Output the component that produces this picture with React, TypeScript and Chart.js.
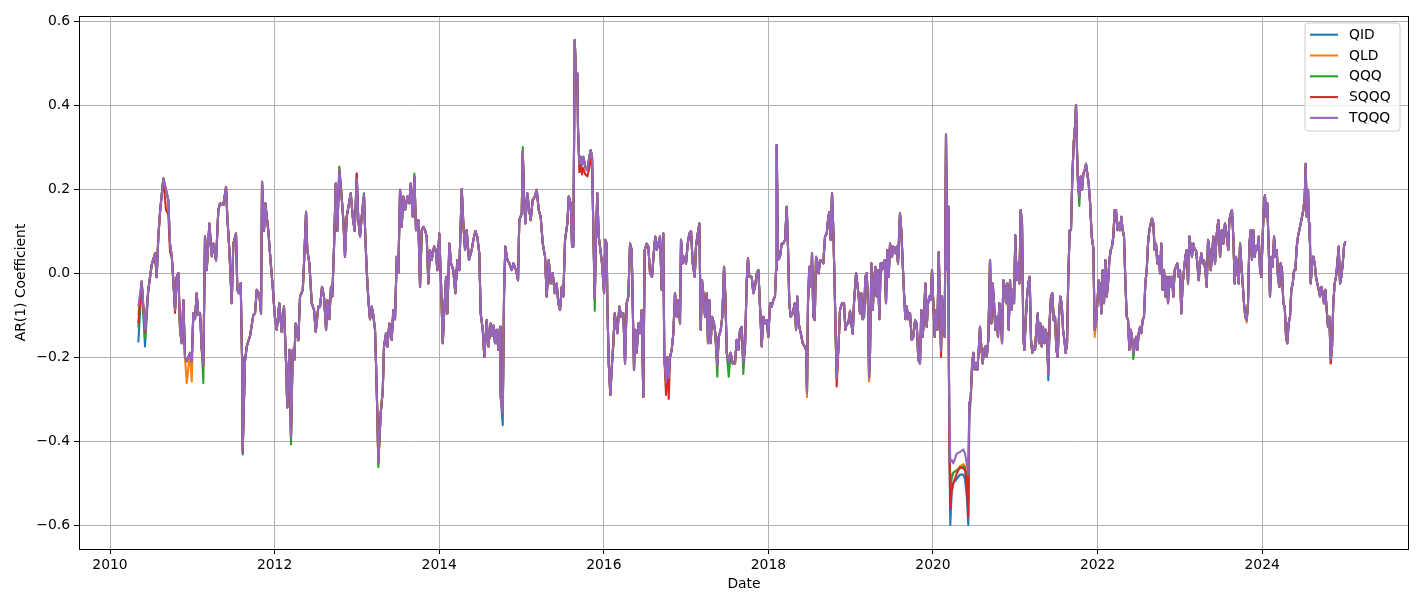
import { useEffect, useRef } from "react";
import { Chart, registerables } from "chart.js";

Chart.register(...registerables);

// Dates as decimal years
const dates = [
  2010.344, 2010.385, 2010.425, 2010.465, 2010.507, 2010.547, 2010.567, 2010.587, 2010.608, 2010.648,
  2010.680, 2010.708, 2010.729, 2010.750, 2010.769, 2010.790, 2010.810, 2010.830, 2010.851, 2010.871,
  2010.891, 2010.911, 2010.932, 2010.972, 2010.993, 2011.012, 2011.033, 2011.053, 2011.073, 2011.094,
  2011.114, 2011.134, 2011.154, 2011.175, 2011.194, 2011.207, 2011.236, 2011.255, 2011.288, 2011.316,
  2011.337, 2011.377, 2011.410, 2011.425, 2011.450, 2011.479, 2011.498, 2011.531, 2011.547, 2011.564,
  2011.588, 2011.604, 2011.612, 2011.640, 2011.661, 2011.701, 2011.741, 2011.762, 2011.783, 2011.814,
  2011.835, 2011.847, 2011.871, 2011.887, 2011.924, 2011.953, 2011.977, 2012.005, 2012.026, 2012.057,
  2012.086, 2012.114, 2012.139, 2012.154, 2012.179, 2012.199, 2012.220, 2012.239, 2012.256, 2012.288,
  2012.309, 2012.342, 2012.357, 2012.382, 2012.397, 2012.422, 2012.451, 2012.479, 2012.500, 2012.531,
  2012.552, 2012.576, 2012.600, 2012.625, 2012.640, 2012.665, 2012.685, 2012.701, 2012.722, 2012.743,
  2012.762, 2012.786, 2012.815, 2012.835, 2012.855, 2012.876, 2012.904, 2012.925, 2012.949, 2012.973,
  2012.998, 2013.017, 2013.038, 2013.062, 2013.086, 2013.102, 2013.119, 2013.139, 2013.159, 2013.180,
  2013.199, 2013.220, 2013.232, 2013.248, 2013.260, 2013.289, 2013.314, 2013.329, 2013.354, 2013.370,
  2013.394, 2013.423, 2013.442, 2013.463, 2013.484, 2013.503, 2013.524, 2013.544, 2013.564, 2013.585,
  2013.613, 2013.637, 2013.654, 2013.678, 2013.698, 2013.718, 2013.746, 2013.767, 2013.788, 2013.807,
  2013.828, 2013.848, 2013.868, 2013.888, 2013.909, 2013.937, 2013.958, 2013.977, 2014.001, 2014.022,
  2014.043, 2014.058, 2014.083, 2014.099, 2014.123, 2014.144, 2014.171, 2014.196, 2014.220, 2014.244,
  2014.274, 2014.293, 2014.314, 2014.334, 2014.362, 2014.395, 2014.415, 2014.439, 2014.463, 2014.487,
  2014.504, 2014.529, 2014.548, 2014.577, 2014.597, 2014.626, 2014.642, 2014.658, 2014.678, 2014.699,
  2014.718, 2014.739, 2014.747, 2014.772, 2014.788, 2014.803, 2014.828, 2014.852, 2014.881, 2014.901,
  2014.933, 2014.958, 2014.973, 2015.003, 2015.015, 2015.031, 2015.046, 2015.071, 2015.088, 2015.112,
  2015.136, 2015.161, 2015.185, 2015.209, 2015.233, 2015.258, 2015.286, 2015.306, 2015.331, 2015.355,
  2015.379, 2015.404, 2015.428, 2015.447, 2015.468, 2015.489, 2015.508, 2015.529, 2015.557, 2015.574,
  2015.598, 2015.614, 2015.630, 2015.647, 2015.662, 2015.678, 2015.687, 2015.703, 2015.720, 2015.735,
  2015.751, 2015.775, 2015.800, 2015.824, 2015.841, 2015.857, 2015.873, 2015.890, 2015.905, 2015.921,
  2015.938, 2015.954, 2015.978, 2016.003, 2016.018, 2016.035, 2016.043, 2016.060, 2016.079, 2016.100,
  2016.116, 2016.133, 2016.148, 2016.164, 2016.189, 2016.213, 2016.237, 2016.258, 2016.278, 2016.298,
  2016.319, 2016.339, 2016.351, 2016.367, 2016.383, 2016.400, 2016.419, 2016.440, 2016.461, 2016.480,
  2016.497, 2016.521, 2016.541, 2016.562, 2016.586, 2016.610, 2016.626, 2016.643, 2016.662, 2016.683,
  2016.704, 2016.723, 2016.735, 2016.756, 2016.772, 2016.789, 2016.805, 2016.825, 2016.845, 2016.865,
  2016.886, 2016.905, 2016.926, 2016.938, 2016.959, 2016.975, 2016.999, 2017.020, 2017.039, 2017.060,
  2017.080, 2017.105, 2017.120, 2017.136, 2017.161, 2017.178, 2017.193, 2017.209, 2017.230, 2017.250,
  2017.266, 2017.282, 2017.299, 2017.315, 2017.339, 2017.355, 2017.379, 2017.396, 2017.421, 2017.440,
  2017.461, 2017.477, 2017.494, 2017.518, 2017.542, 2017.566, 2017.594, 2017.615, 2017.635, 2017.655,
  2017.676, 2017.695, 2017.716, 2017.737, 2017.752, 2017.768, 2017.797, 2017.817, 2017.837, 2017.858,
  2017.878, 2017.898, 2017.919, 2017.938, 2017.959, 2017.980, 2017.999, 2018.020, 2018.040, 2018.060,
  2018.080, 2018.093, 2018.101, 2018.117, 2018.141, 2018.162, 2018.181, 2018.202, 2018.223, 2018.238,
  2018.254, 2018.271, 2018.296, 2018.320, 2018.336, 2018.351, 2018.368, 2018.393, 2018.417, 2018.441,
  2018.457, 2018.469, 2018.481, 2018.497, 2018.518, 2018.530, 2018.546, 2018.563, 2018.579, 2018.594,
  2018.611, 2018.627, 2018.648, 2018.667, 2018.688, 2018.709, 2018.728, 2018.740, 2018.757, 2018.773,
  2018.789, 2018.806, 2018.822, 2018.830, 2018.854, 2018.870, 2018.895, 2018.919, 2018.935, 2018.952,
  2018.971, 2018.992, 2019.012, 2019.025, 2019.040, 2019.065, 2019.080, 2019.097, 2019.113, 2019.129,
  2019.146, 2019.162, 2019.178, 2019.195, 2019.211, 2019.223, 2019.235, 2019.251, 2019.268, 2019.283,
  2019.299, 2019.316, 2019.332, 2019.348, 2019.365, 2019.381, 2019.396, 2019.413, 2019.429, 2019.445,
  2019.462, 2019.478, 2019.502, 2019.518, 2019.542, 2019.559, 2019.575, 2019.599, 2019.615, 2019.632,
  2019.648, 2019.664, 2019.681, 2019.700, 2019.721, 2019.742, 2019.761, 2019.782, 2019.802, 2019.822,
  2019.842, 2019.858, 2019.875, 2019.891, 2019.907, 2019.924, 2019.940, 2019.955, 2019.972, 2019.988,
  2020.004, 2020.021, 2020.037, 2020.053, 2020.070, 2020.085, 2020.098, 2020.110, 2020.125, 2020.142,
  2020.158, 2020.174, 2020.183, 2020.191, 2020.198, 2020.210, 2020.227, 2020.247, 2020.288, 2020.328,
  2020.368, 2020.389, 2020.410, 2020.429, 2020.441, 2020.458, 2020.474, 2020.490, 2020.507, 2020.523,
  2020.539, 2020.556, 2020.571, 2020.587, 2020.604, 2020.620, 2020.636, 2020.653, 2020.672, 2020.693,
  2020.709, 2020.726, 2020.742, 2020.757, 2020.774, 2020.790, 2020.806, 2020.823, 2020.839, 2020.855,
  2020.872, 2020.887, 2020.903, 2020.920, 2020.936, 2020.952, 2020.969, 2020.985, 2021.000, 2021.017,
  2021.033, 2021.049, 2021.066, 2021.082, 2021.098, 2021.110, 2021.127, 2021.143, 2021.158, 2021.175,
  2021.191, 2021.207, 2021.224, 2021.240, 2021.256, 2021.273, 2021.288, 2021.304, 2021.321, 2021.337,
  2021.353, 2021.370, 2021.386, 2021.401, 2021.418, 2021.434, 2021.450, 2021.467, 2021.483, 2021.499,
  2021.516, 2021.531, 2021.547, 2021.564, 2021.580, 2021.596, 2021.613, 2021.629, 2021.644, 2021.661,
  2021.677, 2021.693, 2021.710, 2021.726, 2021.738, 2021.750, 2021.762, 2021.778, 2021.795, 2021.811,
  2021.827, 2021.844, 2021.859, 2021.875, 2021.892, 2021.908, 2021.929, 2021.948, 2021.965, 2021.981,
  2021.997, 2022.014, 2022.030, 2022.045, 2022.062, 2022.078, 2022.094, 2022.111, 2022.127, 2022.143,
  2022.160, 2022.175, 2022.191, 2022.208, 2022.224, 2022.240, 2022.257, 2022.273, 2022.288, 2022.305,
  2022.321, 2022.337, 2022.354, 2022.370, 2022.386, 2022.403, 2022.418, 2022.434, 2022.451, 2022.467,
  2022.483, 2022.500, 2022.516, 2022.531, 2022.548, 2022.564, 2022.580, 2022.597, 2022.613, 2022.629,
  2022.646, 2022.661, 2022.677, 2022.694, 2022.710, 2022.726, 2022.743, 2022.759, 2022.774, 2022.791,
  2022.807, 2022.823, 2022.840, 2022.856, 2022.872, 2022.889, 2022.904, 2022.920, 2022.937, 2022.953,
  2022.969, 2022.986, 2023.002, 2023.017, 2023.034, 2023.050, 2023.066, 2023.083, 2023.099, 2023.115,
  2023.132, 2023.147, 2023.163, 2023.180, 2023.196, 2023.212, 2023.229, 2023.245, 2023.260, 2023.277,
  2023.293, 2023.309, 2023.326, 2023.342, 2023.358, 2023.375, 2023.390, 2023.406, 2023.427, 2023.448,
  2023.467, 2023.488, 2023.508, 2023.528, 2023.548, 2023.569, 2023.588, 2023.601, 2023.618, 2023.633,
  2023.649, 2023.666, 2023.682, 2023.698, 2023.715, 2023.731, 2023.746, 2023.763, 2023.779, 2023.795,
  2023.812, 2023.828, 2023.844, 2023.861, 2023.876, 2023.892, 2023.909, 2023.925, 2023.941, 2023.958,
  2023.974, 2023.989, 2024.006, 2024.022, 2024.034, 2024.047, 2024.062, 2024.079, 2024.095, 2024.111,
  2024.128, 2024.144, 2024.160, 2024.177, 2024.192, 2024.208, 2024.225, 2024.241, 2024.257, 2024.274,
  2024.290, 2024.305, 2024.322, 2024.338, 2024.354, 2024.371, 2024.387, 2024.403, 2024.420, 2024.435,
  2024.451, 2024.468, 2024.484, 2024.500, 2024.517, 2024.529, 2024.541, 2024.557, 2024.569, 2024.581,
  2024.590, 2024.606, 2024.621, 2024.638, 2024.654, 2024.670, 2024.687, 2024.703, 2024.719, 2024.736,
  2024.751, 2024.767, 2024.784, 2024.800, 2024.816, 2024.833, 2024.849, 2024.864, 2024.881, 2024.897,
  2024.913, 2024.930, 2024.946, 2024.962, 2024.979, 2024.994, 2025.010,
];

const TQQQ = [
  -0.08, -0.02, -0.135, -0.04, 0.02, 0.047, -0.01, 0.087, 0.146, 0.225,
  0.198, 0.174, 0.07, 0.04, -0.017, -0.088, -0.01, 0, -0.135, -0.167,
  -0.064, -0.2, -0.21, -0.19, -0.21, -0.096, -0.11, -0.048, -0.1, -0.095,
  -0.18, -0.22, 0.087, 0.007, 0.07, 0.118, 0.04, 0.07, 0.03, 0.15,
  0.166, 0.162, 0.205, 0.134, 0.055, -0.072, 0.07, 0.094, -0.04, -0.048,
  -0.024, -0.2, -0.42, -0.21, -0.175, -0.15, -0.1, -0.096, -0.04, -0.05,
  -0.096, 0.217, 0.1, 0.166, 0.1, 0.023, -0.033, -0.11, -0.135, -0.072,
  -0.14, -0.08, -0.215, -0.32, -0.183, -0.39, -0.183, -0.207, -0.12, -0.16,
  -0.056, -0.04, 0.023, 0.146, 0.055, 0.023, -0.072, -0.088, -0.14, -0.08,
  -0.08, -0.033, -0.056, -0.135, -0.064, -0.11, -0.033, -0.056, 0.063, 0.213,
  0.1, 0.245, 0.18, 0.126, 0.039, 0.134, 0.166, 0.19, 0.134, 0.1,
  0.225, 0.126, 0.087, 0.142, 0.185, 0.087, 0.007, -0.064, -0.11, -0.08,
  -0.1, -0.135, -0.215, -0.334, -0.45, -0.334, -0.28, -0.175, -0.143, -0.175,
  -0.12, -0.159, -0.088, -0.11, 0.039, 0, 0.198, 0.11, 0.182, 0.15,
  0.182, 0.166, 0.213, 0.134, 0.23, 0.102, 0.126, -0.033, 0.102, 0.11,
  0.102, 0.087, -0.025, 0.055, 0.031, 0.063, 0.055, 0.007, 0.094, -0.025,
  -0.167, -0.104, -0.009, -0.096, 0.07, 0.023, 0.007, -0.048, 0.031, 0.007,
  0.2, 0.118, 0.055, 0.102, 0.031, 0.055, 0.079, 0.1, 0.087, 0.047,
  -0.096, -0.135, -0.2, -0.112, -0.175, -0.12, -0.15, -0.125, -0.167, -0.135,
  -0.183, -0.128, -0.295, -0.334, -0.048, 0.063, 0.031, 0.023, 0.007, 0.023,
  0.007, -0.017, 0.126, 0.142, 0.29, 0.182, 0.118, 0.19, 0.158, 0.126,
  0.174, 0.182, 0.198, 0.15, 0.134, 0.07, 0.039, -0.056, 0.031, -0.025,
  0, -0.048, -0.025, -0.072, -0.088, -0.033, -0.056, 0.079, 0.118, 0.182,
  0.166, 0.063, 0.063, 0.555, 0.467, 0.475, 0.34, 0.26, 0.277, 0.255,
  0.277, 0.253, 0.245, 0.277, 0.293, 0.277, 0.1, -0.06, 0.087, 0.19,
  0.087, 0.063, 0.023, -0.048, 0.079, 0.07, -0.072, -0.215, -0.29, -0.215,
  -0.167, -0.096, -0.12, -0.143, -0.08, -0.104, -0.096, -0.215, -0.072, -0.056,
  0.07, 0.055, -0.072, -0.23, -0.135, -0.19, -0.12, -0.143, -0.088, -0.295,
  0.055, 0.07, 0.063, -0.001, -0.009, 0.055, 0.087, 0.055, 0.07, 0.087,
  -0.04, 0.094, -0.2, -0.26, -0.2, -0.25, -0.2, -0.183, -0.143, -0.048,
  -0.104, -0.064, -0.12, 0.079, 0.023, 0.039, 0.023, 0.07, 0.094, 0.1,
  0.023, -0.009, 0.063, 0.087, 0.118, -0.135, -0.017, -0.048, -0.104, -0.048,
  -0.167, -0.064, -0.167, -0.104, -0.12, -0.143, -0.22, -0.152, -0.135, -0.104,
  0.015, -0.056, -0.19, -0.21, -0.19, -0.215, -0.215, -0.159, -0.183, -0.135,
  -0.128, -0.215, -0.175, -0.017, 0.035, -0.009, -0.009, -0.048, -0.033, -0.001,
  0.007, -0.08, -0.175, -0.104, -0.12, -0.112, -0.152, -0.072, -0.08, -0.064,
  -0.056, 0.007, 0.305, 0.031, 0.039, 0.07, 0.07, 0.079, 0.158, 0.063,
  -0.072, -0.104, -0.096, -0.072, -0.135, -0.056, -0.12, -0.143, -0.167, -0.175,
  -0.183, -0.285, -0.072, 0.015, -0.033, 0.047, -0.104, -0.112, 0.039, 0.023,
  -0.001, 0.031, 0.031, 0.023, 0.087, 0.094, 0.134, 0.145, 0.079, 0.19,
  0.102, -0.04, -0.19, -0.25, -0.167, -0.088, -0.072, -0.072, -0.135, -0.12,
  -0.12, -0.09, -0.125, -0.145, -0.072, 0, -0.025, -0.056, -0.096, -0.048,
  -0.11, -0.104, -0.009, 0, -0.08, -0.25, -0.19, 0.023, -0.088, -0.025,
  0.015, -0.056, 0.007, -0.11, 0.023, 0.007, 0.023, 0.031, -0.072, 0.055,
  -0.009, 0.07, 0.039, 0.063, 0.047, 0.063, 0.023, 0.142, 0.102, 0.023,
  -0.048, -0.11, -0.08, -0.11, -0.096, -0.159, -0.152, -0.112, -0.12, -0.207,
  -0.215, -0.088, -0.152, -0.104, -0.025, -0.128, -0.072, -0.056, -0.064, 0.007,
  -0.072, -0.152, -0.088, -0.135, 0.05, -0.08, -0.185, -0.056, -0.12, -0.152,
  0.33, 0.007, 0.158, -0.135, -0.334, -0.45, -0.445, -0.453, -0.43, -0.426,
  -0.42, -0.43, -0.453, -0.48, -0.31, -0.3, -0.223, -0.19, -0.23, -0.215,
  -0.23, -0.183, -0.128, -0.175, -0.215, -0.183, -0.175, -0.2, -0.16, 0.031,
  -0.12, -0.025, -0.072, -0.135, -0.104, -0.152, -0.072, -0.096, -0.167, -0.017,
  -0.033, -0.072, -0.025, -0.135, -0.017, -0.088, -0.04, -0.072, 0.09, -0.017,
  0.023, -0.025, 0.15, 0.118, -0.152, -0.183, -0.112, -0.056, -0.025, -0.009,
  -0.159, -0.19, -0.175, -0.183, -0.135, -0.096, -0.167, -0.12, -0.175, -0.128,
  -0.167, -0.135, -0.152, -0.24, -0.112, -0.056, -0.048, -0.112, -0.104, -0.183,
  -0.2, -0.104, -0.056, -0.072, -0.135, -0.159, -0.19, -0.167, -0.009, 0.102,
  0.102, 0.23, 0.31, 0.35, 0.4, 0.293, 0.213, 0.182, 0.23, 0.198,
  0.237, 0.245, 0.26, 0.237, 0.213, 0.17, 0.087, 0.06, -0.135, -0.12,
  -0.072, -0.017, -0.033, -0.096, 0.007, -0.072, 0.031, -0.056, -0.025, 0.031,
  0.055, 0.063, 0.087, 0.15, 0.15, 0.102, 0.118, 0.102, 0.134, 0.102,
  0.087, -0.017, -0.104, -0.112, -0.183, -0.135, -0.152, -0.19, -0.175, -0.152,
  -0.183, -0.143, -0.128, -0.143, -0.112, -0.104, -0.025, 0.007, 0.07, 0.102,
  0.118, 0.13, 0.118, 0.055, 0.07, 0.023, 0.039, -0.001, 0.07, -0.04,
  0.007, -0.056, -0.009, -0.072, -0.009, -0.033, -0.009, -0.056, 0.007, 0.015,
  0.023, -0.009, 0.007, -0.096, -0.025, 0.007, 0.039, 0.055, -0.025, 0.087,
  0.063, 0.039, 0.07, 0.055, 0.055, 0.023, -0.017, 0.023, 0.047, 0.023,
  0.031, 0.007, -0.033, 0.079, 0.055, 0.007, 0.039, 0.087, 0.023, 0.094,
  0.126, 0.039, 0.102, 0.07, 0.118, 0.087, 0.055, 0.126, 0.142, 0.15,
  0.087, -0.025, 0.039, 0.007, -0.025, 0.07, 0.023, -0.025, -0.072, -0.104,
  -0.112, -0.072, 0.07, 0.102, 0.031, 0.102, 0.039, 0.063, 0.055, 0.087,
  0.007, -0.009, 0.087, 0.166, 0.185, 0.134, 0.166, 0.063, -0.056, 0.039,
  0.015, 0.087, 0.039, 0.055, -0.009, -0.033, 0.023, 0.007, -0.072, -0.08,
  -0.152, -0.167, -0.119, -0.104, -0.04, -0.025, 0.007, 0.007, 0.063, 0.087,
  0.102, 0.118, 0.134, 0.15, 0.182, 0.26, 0.134, 0.198, 0.118, 0.07,
  -0.025, 0.023, 0.039, 0.023, -0.009, -0.025, -0.04, -0.056, -0.033, -0.048,
  -0.072, -0.04, -0.088, -0.128, -0.104, -0.207, -0.175, -0.072, -0.025, -0.009,
  0.023, 0.063, -0.025, -0.009, 0.023, 0.063, 0.075,
];

const QID = [
  -0.165, -0.02, -0.175, -0.04, 0.02, 0.047, -0.01, 0.087, 0.146, 0.225,
  0.198, 0.174, 0.07, 0.04, -0.017, -0.088, -0.01, 0, -0.135, -0.167,
  -0.064, -0.2, -0.21, -0.19, -0.21, -0.096, -0.11, -0.048, -0.1, -0.095,
  -0.18, -0.22, 0.087, 0.007, 0.07, 0.118, 0.04, 0.07, 0.03, 0.15,
  0.166, 0.162, 0.205, 0.134, 0.055, -0.072, 0.07, 0.094, -0.04, -0.048,
  -0.024, -0.2, -0.432, -0.21, -0.175, -0.15, -0.1, -0.096, -0.04, -0.05,
  -0.096, 0.217, 0.1, 0.166, 0.1, 0.023, -0.033, -0.11, -0.135, -0.072,
  -0.14, -0.08, -0.215, -0.32, -0.183, -0.39, -0.183, -0.207, -0.12, -0.16,
  -0.056, -0.04, 0.023, 0.146, 0.055, 0.023, -0.072, -0.088, -0.14, -0.08,
  -0.08, -0.033, -0.056, -0.135, -0.064, -0.11, -0.033, -0.056, 0.063, 0.213,
  0.1, 0.245, 0.18, 0.126, 0.039, 0.134, 0.166, 0.19, 0.134, 0.1,
  0.237, 0.126, 0.087, 0.142, 0.19, 0.087, 0.007, -0.064, -0.11, -0.08,
  -0.1, -0.135, -0.215, -0.334, -0.45, -0.334, -0.28, -0.175, -0.143, -0.175,
  -0.12, -0.159, -0.088, -0.11, 0.039, 0, 0.198, 0.11, 0.182, 0.15,
  0.182, 0.166, 0.213, 0.134, 0.23, 0.102, 0.126, -0.033, 0.102, 0.11,
  0.102, 0.087, -0.025, 0.055, 0.031, 0.063, 0.055, 0.007, 0.094, -0.025,
  -0.167, -0.104, -0.009, -0.096, 0.07, 0.023, 0.007, -0.048, 0.031, 0.007,
  0.2, 0.118, 0.055, 0.102, 0.031, 0.055, 0.079, 0.1, 0.087, 0.047,
  -0.096, -0.135, -0.2, -0.112, -0.175, -0.12, -0.15, -0.125, -0.167, -0.135,
  -0.183, -0.128, -0.295, -0.362, -0.048, 0.063, 0.031, 0.023, 0.007, 0.023,
  0.007, -0.017, 0.126, 0.142, 0.29, 0.182, 0.118, 0.19, 0.158, 0.126,
  0.174, 0.182, 0.198, 0.15, 0.134, 0.07, 0.039, -0.056, 0.031, -0.025,
  0, -0.048, -0.025, -0.072, -0.088, -0.033, -0.056, 0.079, 0.118, 0.182,
  0.166, 0.063, 0.063, 0.555, 0.467, 0.475, 0.34, 0.26, 0.277, 0.255,
  0.277, 0.253, 0.245, 0.277, 0.293, 0.277, 0.1, -0.06, 0.087, 0.19,
  0.087, 0.063, 0.023, -0.048, 0.079, 0.07, -0.072, -0.215, -0.29, -0.215,
  -0.167, -0.096, -0.12, -0.143, -0.08, -0.104, -0.096, -0.215, -0.072, -0.056,
  0.07, 0.055, -0.072, -0.23, -0.135, -0.19, -0.12, -0.143, -0.088, -0.295,
  0.055, 0.07, 0.063, -0.001, -0.009, 0.055, 0.087, 0.055, 0.07, 0.087,
  -0.04, 0.094, -0.2, -0.26, -0.2, -0.25, -0.2, -0.183, -0.143, -0.048,
  -0.104, -0.064, -0.12, 0.079, 0.023, 0.039, 0.023, 0.07, 0.094, 0.1,
  0.023, -0.009, 0.063, 0.087, 0.118, -0.135, -0.017, -0.048, -0.104, -0.048,
  -0.167, -0.064, -0.167, -0.104, -0.12, -0.143, -0.22, -0.152, -0.135, -0.104,
  0.015, -0.056, -0.19, -0.21, -0.19, -0.215, -0.215, -0.159, -0.183, -0.135,
  -0.128, -0.215, -0.175, -0.017, 0.035, -0.009, -0.009, -0.048, -0.033, -0.001,
  0.007, -0.08, -0.175, -0.104, -0.12, -0.112, -0.152, -0.072, -0.08, -0.064,
  -0.056, 0.007, 0.305, 0.031, 0.039, 0.07, 0.07, 0.079, 0.158, 0.063,
  -0.072, -0.104, -0.096, -0.072, -0.135, -0.056, -0.12, -0.143, -0.167, -0.175,
  -0.183, -0.285, -0.072, 0.015, -0.033, 0.047, -0.104, -0.112, 0.039, 0.023,
  -0.001, 0.031, 0.031, 0.023, 0.087, 0.094, 0.134, 0.145, 0.079, 0.19,
  0.102, -0.04, -0.19, -0.25, -0.167, -0.088, -0.072, -0.072, -0.135, -0.12,
  -0.12, -0.09, -0.125, -0.145, -0.072, 0, -0.025, -0.056, -0.096, -0.048,
  -0.11, -0.104, -0.009, 0, -0.08, -0.25, -0.19, 0.023, -0.088, -0.025,
  0.015, -0.056, 0.007, -0.11, 0.023, 0.007, 0.023, 0.031, -0.072, 0.055,
  -0.009, 0.07, 0.039, 0.063, 0.047, 0.063, 0.023, 0.142, 0.102, 0.023,
  -0.048, -0.11, -0.08, -0.11, -0.096, -0.159, -0.152, -0.112, -0.12, -0.207,
  -0.215, -0.088, -0.152, -0.104, -0.025, -0.128, -0.072, -0.056, -0.064, 0.007,
  -0.072, -0.152, -0.088, -0.135, 0.05, -0.08, -0.185, -0.056, -0.12, -0.152,
  0.33, 0.007, 0.158, -0.135, -0.4, -0.6, -0.52, -0.5, -0.49, -0.48,
  -0.48, -0.49, -0.53, -0.6, -0.35, -0.3, -0.223, -0.19, -0.23, -0.215,
  -0.23, -0.183, -0.128, -0.175, -0.215, -0.183, -0.175, -0.2, -0.16, 0.031,
  -0.12, -0.025, -0.072, -0.135, -0.104, -0.152, -0.072, -0.096, -0.167, -0.017,
  -0.033, -0.072, -0.025, -0.135, -0.017, -0.088, -0.04, -0.072, 0.09, -0.017,
  0.023, -0.025, 0.15, 0.118, -0.152, -0.183, -0.112, -0.056, -0.025, -0.009,
  -0.159, -0.19, -0.175, -0.183, -0.135, -0.096, -0.167, -0.12, -0.175, -0.128,
  -0.167, -0.135, -0.152, -0.255, -0.112, -0.056, -0.048, -0.112, -0.104, -0.183,
  -0.2, -0.104, -0.056, -0.072, -0.135, -0.159, -0.19, -0.167, -0.009, 0.102,
  0.102, 0.23, 0.31, 0.35, 0.4, 0.293, 0.213, 0.182, 0.23, 0.198,
  0.237, 0.245, 0.26, 0.237, 0.213, 0.17, 0.087, 0.06, -0.135, -0.12,
  -0.072, -0.017, -0.033, -0.096, 0.007, -0.072, 0.031, -0.056, -0.025, 0.031,
  0.055, 0.063, 0.087, 0.15, 0.15, 0.102, 0.118, 0.102, 0.134, 0.102,
  0.087, -0.017, -0.104, -0.112, -0.183, -0.135, -0.152, -0.19, -0.175, -0.152,
  -0.183, -0.143, -0.128, -0.143, -0.112, -0.104, -0.025, 0.007, 0.07, 0.102,
  0.118, 0.13, 0.118, 0.055, 0.07, 0.023, 0.039, -0.001, 0.07, -0.04,
  0.007, -0.056, -0.009, -0.072, -0.009, -0.033, -0.009, -0.056, 0.007, 0.015,
  0.023, -0.009, 0.007, -0.096, -0.025, 0.007, 0.039, 0.055, -0.025, 0.087,
  0.063, 0.039, 0.07, 0.055, 0.055, 0.023, -0.017, 0.023, 0.047, 0.023,
  0.031, 0.007, -0.033, 0.079, 0.055, 0.007, 0.039, 0.087, 0.023, 0.094,
  0.126, 0.039, 0.102, 0.07, 0.118, 0.087, 0.055, 0.126, 0.142, 0.15,
  0.087, -0.025, 0.039, 0.007, -0.025, 0.07, 0.023, -0.025, -0.072, -0.104,
  -0.112, -0.072, 0.07, 0.102, 0.031, 0.102, 0.039, 0.063, 0.055, 0.087,
  0.007, -0.009, 0.087, 0.166, 0.185, 0.134, 0.166, 0.063, -0.056, 0.039,
  0.015, 0.087, 0.039, 0.055, -0.009, -0.033, 0.023, 0.007, -0.072, -0.08,
  -0.152, -0.167, -0.119, -0.104, -0.04, -0.025, 0.007, 0.007, 0.063, 0.087,
  0.102, 0.118, 0.134, 0.15, 0.182, 0.26, 0.134, 0.198, 0.118, 0.07,
  -0.025, 0.023, 0.039, 0.023, -0.009, -0.025, -0.04, -0.056, -0.033, -0.048,
  -0.072, -0.04, -0.088, -0.128, -0.104, -0.207, -0.175, -0.072, -0.025, -0.009,
  0.023, 0.063, -0.025, -0.009, 0.023, 0.063, 0.075,
];

const QLD = [
  -0.1, -0.02, -0.14, -0.04, 0.02, 0.047, -0.01, 0.087, 0.146, 0.225,
  0.198, 0.174, 0.07, 0.04, -0.017, -0.088, -0.01, 0, -0.135, -0.167,
  -0.064, -0.2, -0.262, -0.19, -0.258, -0.096, -0.11, -0.048, -0.1, -0.095,
  -0.18, -0.22, 0.087, 0.007, 0.07, 0.118, 0.04, 0.07, 0.03, 0.15,
  0.166, 0.162, 0.205, 0.134, 0.055, -0.072, 0.07, 0.094, -0.04, -0.048,
  -0.024, -0.2, -0.42, -0.21, -0.175, -0.15, -0.1, -0.096, -0.04, -0.05,
  -0.096, 0.217, 0.1, 0.166, 0.1, 0.023, -0.033, -0.11, -0.135, -0.072,
  -0.14, -0.08, -0.215, -0.32, -0.183, -0.39, -0.183, -0.207, -0.12, -0.16,
  -0.056, -0.04, 0.023, 0.146, 0.055, 0.023, -0.072, -0.088, -0.14, -0.08,
  -0.08, -0.033, -0.056, -0.135, -0.064, -0.11, -0.033, -0.056, 0.063, 0.213,
  0.1, 0.253, 0.18, 0.126, 0.039, 0.134, 0.166, 0.19, 0.134, 0.1,
  0.225, 0.126, 0.087, 0.142, 0.185, 0.087, 0.007, -0.064, -0.11, -0.08,
  -0.1, -0.135, -0.215, -0.334, -0.455, -0.334, -0.28, -0.175, -0.143, -0.175,
  -0.12, -0.159, -0.088, -0.11, 0.039, 0, 0.198, 0.11, 0.182, 0.15,
  0.182, 0.166, 0.213, 0.134, 0.23, 0.102, 0.126, -0.033, 0.102, 0.11,
  0.102, 0.087, -0.025, 0.055, 0.031, 0.063, 0.055, 0.007, 0.094, -0.025,
  -0.167, -0.104, -0.009, -0.096, 0.07, 0.023, 0.007, -0.048, 0.031, 0.007,
  0.2, 0.118, 0.055, 0.102, 0.031, 0.055, 0.079, 0.1, 0.087, 0.047,
  -0.096, -0.135, -0.2, -0.112, -0.175, -0.12, -0.15, -0.125, -0.167, -0.135,
  -0.183, -0.128, -0.295, -0.334, -0.048, 0.063, 0.031, 0.023, 0.007, 0.023,
  0.007, -0.017, 0.126, 0.142, 0.29, 0.182, 0.118, 0.19, 0.158, 0.126,
  0.174, 0.182, 0.198, 0.15, 0.134, 0.07, 0.039, -0.056, 0.031, -0.025,
  0, -0.048, -0.025, -0.072, -0.088, -0.033, -0.056, 0.079, 0.118, 0.182,
  0.166, 0.063, 0.063, 0.555, 0.467, 0.475, 0.34, 0.26, 0.277, 0.255,
  0.277, 0.253, 0.245, 0.277, 0.293, 0.277, 0.1, -0.06, 0.087, 0.19,
  0.087, 0.063, 0.023, -0.048, 0.079, 0.07, -0.072, -0.215, -0.29, -0.215,
  -0.167, -0.096, -0.12, -0.143, -0.08, -0.104, -0.096, -0.215, -0.072, -0.056,
  0.07, 0.055, -0.072, -0.23, -0.135, -0.19, -0.12, -0.143, -0.088, -0.295,
  0.055, 0.07, 0.063, -0.001, -0.009, 0.055, 0.087, 0.055, 0.07, 0.087,
  -0.04, 0.094, -0.2, -0.26, -0.2, -0.25, -0.2, -0.183, -0.143, -0.048,
  -0.104, -0.064, -0.12, 0.079, 0.023, 0.039, 0.023, 0.07, 0.094, 0.1,
  0.023, -0.009, 0.063, 0.087, 0.118, -0.135, -0.017, -0.048, -0.104, -0.048,
  -0.167, -0.064, -0.167, -0.104, -0.12, -0.143, -0.22, -0.152, -0.135, -0.104,
  0.015, -0.056, -0.19, -0.21, -0.19, -0.215, -0.215, -0.159, -0.183, -0.135,
  -0.128, -0.215, -0.175, -0.017, 0.035, -0.009, -0.009, -0.048, -0.033, -0.001,
  0.007, -0.08, -0.175, -0.104, -0.12, -0.112, -0.152, -0.072, -0.08, -0.064,
  -0.056, 0.007, 0.305, 0.031, 0.039, 0.07, 0.07, 0.079, 0.158, 0.063,
  -0.072, -0.104, -0.096, -0.072, -0.135, -0.056, -0.12, -0.143, -0.167, -0.175,
  -0.183, -0.295, -0.072, 0.015, -0.033, 0.047, -0.104, -0.112, 0.039, 0.023,
  -0.001, 0.031, 0.031, 0.023, 0.087, 0.094, 0.134, 0.145, 0.079, 0.19,
  0.102, -0.04, -0.19, -0.25, -0.167, -0.088, -0.072, -0.072, -0.135, -0.12,
  -0.12, -0.09, -0.125, -0.145, -0.072, 0, -0.025, -0.056, -0.096, -0.048,
  -0.11, -0.104, -0.009, 0, -0.08, -0.258, -0.19, 0.023, -0.088, -0.025,
  0.015, -0.056, 0.007, -0.11, 0.023, 0.007, 0.023, 0.031, -0.072, 0.055,
  -0.009, 0.07, 0.039, 0.063, 0.047, 0.063, 0.023, 0.142, 0.102, 0.023,
  -0.048, -0.11, -0.08, -0.11, -0.096, -0.159, -0.152, -0.112, -0.12, -0.207,
  -0.215, -0.088, -0.152, -0.104, -0.025, -0.128, -0.072, -0.056, -0.064, 0.007,
  -0.072, -0.152, -0.088, -0.135, 0.05, -0.08, -0.185, -0.056, -0.12, -0.152,
  0.33, 0.007, 0.158, -0.135, -0.36, -0.5, -0.48, -0.475, -0.47, -0.46,
  -0.455, -0.46, -0.48, -0.52, -0.31, -0.3, -0.223, -0.19, -0.23, -0.215,
  -0.23, -0.183, -0.128, -0.175, -0.215, -0.183, -0.175, -0.2, -0.16, 0.031,
  -0.12, -0.025, -0.072, -0.135, -0.104, -0.152, -0.072, -0.096, -0.167, -0.017,
  -0.033, -0.072, -0.025, -0.135, -0.017, -0.088, -0.04, -0.072, 0.09, -0.017,
  0.023, -0.025, 0.15, 0.118, -0.152, -0.183, -0.112, -0.056, -0.025, -0.009,
  -0.159, -0.19, -0.175, -0.183, -0.135, -0.096, -0.167, -0.12, -0.175, -0.128,
  -0.167, -0.135, -0.152, -0.24, -0.112, -0.056, -0.048, -0.112, -0.104, -0.183,
  -0.2, -0.104, -0.056, -0.072, -0.135, -0.159, -0.19, -0.167, -0.009, 0.102,
  0.102, 0.23, 0.31, 0.35, 0.4, 0.293, 0.213, 0.182, 0.23, 0.198,
  0.237, 0.245, 0.26, 0.237, 0.213, 0.17, 0.087, 0.06, -0.152, -0.12,
  -0.072, -0.017, -0.033, -0.096, 0.007, -0.072, 0.031, -0.056, -0.025, 0.031,
  0.055, 0.063, 0.087, 0.15, 0.15, 0.102, 0.118, 0.102, 0.134, 0.102,
  0.087, -0.017, -0.104, -0.112, -0.183, -0.135, -0.152, -0.19, -0.175, -0.152,
  -0.183, -0.143, -0.128, -0.143, -0.112, -0.104, -0.025, 0.007, 0.07, 0.102,
  0.118, 0.13, 0.118, 0.055, 0.07, 0.023, 0.039, -0.001, 0.07, -0.04,
  0.007, -0.056, -0.009, -0.072, -0.009, -0.033, -0.009, -0.056, 0.007, 0.015,
  0.023, -0.009, 0.007, -0.096, -0.025, 0.007, 0.039, 0.055, -0.025, 0.087,
  0.063, 0.039, 0.07, 0.055, 0.055, 0.023, -0.017, 0.023, 0.047, 0.023,
  0.031, 0.007, -0.033, 0.079, 0.055, 0.007, 0.039, 0.087, 0.023, 0.094,
  0.126, 0.039, 0.102, 0.07, 0.118, 0.087, 0.055, 0.126, 0.142, 0.15,
  0.087, -0.025, 0.039, 0.007, -0.025, 0.07, 0.023, -0.025, -0.072, -0.104,
  -0.118, -0.072, 0.07, 0.102, 0.031, 0.102, 0.039, 0.063, 0.055, 0.087,
  0.007, -0.009, 0.087, 0.166, 0.185, 0.134, 0.166, 0.063, -0.056, 0.039,
  0.015, 0.087, 0.039, 0.055, -0.009, -0.033, 0.023, 0.007, -0.072, -0.08,
  -0.152, -0.167, -0.119, -0.104, -0.04, -0.025, 0.007, 0.007, 0.063, 0.087,
  0.102, 0.118, 0.134, 0.15, 0.182, 0.26, 0.134, 0.198, 0.118, 0.07,
  -0.025, 0.023, 0.039, 0.023, -0.009, -0.025, -0.04, -0.056, -0.033, -0.048,
  -0.072, -0.04, -0.088, -0.128, -0.104, -0.215, -0.175, -0.072, -0.025, -0.009,
  0.023, 0.063, -0.025, -0.009, 0.023, 0.063, 0.075,
];

const QQQ = [
  -0.13, -0.02, -0.155, -0.04, 0.02, 0.047, -0.01, 0.087, 0.146, 0.225,
  0.198, 0.174, 0.07, 0.04, -0.017, -0.088, -0.01, 0, -0.135, -0.167,
  -0.064, -0.2, -0.21, -0.19, -0.21, -0.096, -0.11, -0.048, -0.1, -0.095,
  -0.18, -0.262, 0.087, 0.007, 0.07, 0.118, 0.04, 0.07, 0.03, 0.15,
  0.166, 0.162, 0.205, 0.134, 0.055, -0.072, 0.07, 0.094, -0.04, -0.048,
  -0.024, -0.2, -0.42, -0.21, -0.175, -0.15, -0.1, -0.096, -0.04, -0.05,
  -0.096, 0.217, 0.1, 0.166, 0.1, 0.023, -0.033, -0.11, -0.135, -0.072,
  -0.14, -0.08, -0.215, -0.32, -0.183, -0.408, -0.183, -0.207, -0.12, -0.16,
  -0.056, -0.04, 0.023, 0.146, 0.055, 0.023, -0.072, -0.088, -0.14, -0.08,
  -0.08, -0.033, -0.056, -0.135, -0.064, -0.11, -0.033, -0.056, 0.063, 0.213,
  0.1, 0.253, 0.18, 0.126, 0.039, 0.134, 0.166, 0.19, 0.134, 0.1,
  0.225, 0.126, 0.087, 0.142, 0.185, 0.087, 0.007, -0.064, -0.11, -0.08,
  -0.1, -0.135, -0.215, -0.334, -0.462, -0.334, -0.28, -0.175, -0.143, -0.175,
  -0.12, -0.159, -0.088, -0.11, 0.039, 0, 0.198, 0.11, 0.182, 0.15,
  0.182, 0.166, 0.213, 0.134, 0.237, 0.102, 0.126, -0.033, 0.102, 0.11,
  0.102, 0.087, -0.025, 0.055, 0.031, 0.063, 0.055, 0.007, 0.094, -0.025,
  -0.167, -0.104, -0.009, -0.096, 0.07, 0.023, 0.007, -0.048, 0.031, 0.007,
  0.2, 0.118, 0.055, 0.102, 0.031, 0.055, 0.079, 0.1, 0.087, 0.047,
  -0.096, -0.135, -0.2, -0.112, -0.175, -0.12, -0.15, -0.125, -0.167, -0.135,
  -0.183, -0.128, -0.295, -0.334, -0.048, 0.063, 0.031, 0.023, 0.007, 0.023,
  0.007, -0.017, 0.126, 0.142, 0.3, 0.182, 0.118, 0.19, 0.158, 0.126,
  0.174, 0.182, 0.198, 0.15, 0.134, 0.07, 0.039, -0.056, 0.031, -0.025,
  0, -0.048, -0.025, -0.072, -0.088, -0.033, -0.056, 0.079, 0.118, 0.182,
  0.166, 0.063, 0.063, 0.555, 0.467, 0.475, 0.34, 0.26, 0.277, 0.255,
  0.277, 0.253, 0.245, 0.277, 0.293, 0.277, 0.1, -0.09, 0.087, 0.19,
  0.087, 0.063, 0.023, -0.048, 0.079, 0.07, -0.072, -0.215, -0.29, -0.215,
  -0.167, -0.096, -0.12, -0.143, -0.08, -0.104, -0.096, -0.215, -0.072, -0.056,
  0.07, 0.055, -0.072, -0.23, -0.135, -0.19, -0.12, -0.143, -0.088, -0.295,
  0.055, 0.07, 0.063, -0.001, -0.009, 0.055, 0.087, 0.055, 0.07, 0.087,
  -0.04, 0.094, -0.2, -0.26, -0.2, -0.25, -0.2, -0.183, -0.143, -0.048,
  -0.104, -0.064, -0.12, 0.079, 0.023, 0.039, 0.023, 0.07, 0.094, 0.1,
  0.023, -0.009, 0.063, 0.087, 0.118, -0.135, -0.017, -0.048, -0.104, -0.048,
  -0.167, -0.064, -0.167, -0.104, -0.12, -0.143, -0.247, -0.152, -0.135, -0.104,
  0.015, -0.056, -0.19, -0.247, -0.19, -0.215, -0.215, -0.159, -0.183, -0.135,
  -0.128, -0.24, -0.175, -0.017, 0.035, -0.009, -0.009, -0.048, -0.033, -0.001,
  0.007, -0.08, -0.175, -0.104, -0.12, -0.112, -0.152, -0.072, -0.08, -0.064,
  -0.056, 0.007, 0.305, 0.031, 0.039, 0.07, 0.07, 0.079, 0.158, 0.063,
  -0.072, -0.104, -0.096, -0.072, -0.135, -0.056, -0.12, -0.143, -0.167, -0.175,
  -0.183, -0.285, -0.072, 0.015, -0.033, 0.047, -0.104, -0.112, 0.039, 0.023,
  -0.001, 0.031, 0.031, 0.023, 0.087, 0.094, 0.134, 0.145, 0.079, 0.19,
  0.102, -0.04, -0.19, -0.25, -0.167, -0.088, -0.072, -0.072, -0.135, -0.12,
  -0.12, -0.09, -0.125, -0.145, -0.072, 0, -0.025, -0.056, -0.096, -0.048,
  -0.11, -0.104, -0.009, 0, -0.08, -0.25, -0.19, 0.023, -0.088, -0.025,
  0.015, -0.056, 0.007, -0.11, 0.023, 0.007, 0.023, 0.031, -0.072, 0.055,
  -0.009, 0.07, 0.039, 0.063, 0.047, 0.063, 0.023, 0.142, 0.102, 0.023,
  -0.048, -0.11, -0.08, -0.11, -0.096, -0.159, -0.152, -0.112, -0.12, -0.207,
  -0.215, -0.088, -0.152, -0.104, -0.025, -0.128, -0.072, -0.056, -0.064, 0.007,
  -0.072, -0.152, -0.088, -0.135, 0.05, -0.08, -0.185, -0.056, -0.12, -0.152,
  0.33, 0.007, 0.158, -0.135, -0.37, -0.52, -0.49, -0.475, -0.47, -0.465,
  -0.46, -0.465, -0.48, -0.54, -0.31, -0.3, -0.223, -0.19, -0.23, -0.215,
  -0.23, -0.183, -0.128, -0.175, -0.215, -0.183, -0.175, -0.2, -0.16, 0.031,
  -0.12, -0.025, -0.072, -0.135, -0.104, -0.152, -0.072, -0.096, -0.167, -0.017,
  -0.033, -0.072, -0.025, -0.135, -0.017, -0.088, -0.04, -0.072, 0.09, -0.017,
  0.023, -0.025, 0.15, 0.118, -0.152, -0.183, -0.112, -0.056, -0.025, -0.009,
  -0.159, -0.19, -0.175, -0.183, -0.135, -0.096, -0.167, -0.12, -0.175, -0.128,
  -0.167, -0.135, -0.152, -0.24, -0.112, -0.056, -0.048, -0.112, -0.104, -0.183,
  -0.2, -0.104, -0.056, -0.072, -0.135, -0.159, -0.19, -0.167, -0.009, 0.102,
  0.102, 0.23, 0.31, 0.35, 0.4, 0.293, 0.213, 0.16, 0.23, 0.198,
  0.237, 0.245, 0.26, 0.237, 0.213, 0.17, 0.087, 0.06, -0.135, -0.12,
  -0.072, -0.017, -0.033, -0.096, 0.007, -0.072, 0.031, -0.056, -0.025, 0.031,
  0.055, 0.063, 0.087, 0.15, 0.15, 0.102, 0.118, 0.102, 0.134, 0.102,
  0.087, -0.017, -0.104, -0.112, -0.183, -0.135, -0.152, -0.205, -0.175, -0.152,
  -0.183, -0.143, -0.128, -0.143, -0.112, -0.104, -0.025, 0.007, 0.07, 0.102,
  0.118, 0.13, 0.118, 0.055, 0.07, 0.023, 0.039, -0.001, 0.07, -0.04,
  0.007, -0.056, -0.009, -0.072, -0.009, -0.033, -0.009, -0.056, 0.007, 0.015,
  0.023, -0.009, 0.007, -0.096, -0.025, 0.007, 0.039, 0.055, -0.025, 0.087,
  0.063, 0.039, 0.07, 0.055, 0.055, 0.023, -0.017, 0.023, 0.047, 0.023,
  0.031, 0.007, -0.033, 0.079, 0.055, 0.007, 0.039, 0.087, 0.023, 0.094,
  0.126, 0.039, 0.102, 0.07, 0.118, 0.087, 0.055, 0.126, 0.142, 0.15,
  0.087, -0.025, 0.039, 0.007, -0.025, 0.07, 0.023, -0.025, -0.072, -0.104,
  -0.112, -0.072, 0.07, 0.102, 0.031, 0.102, 0.039, 0.063, 0.055, 0.087,
  0.007, -0.009, 0.087, 0.166, 0.185, 0.134, 0.166, 0.063, -0.056, 0.039,
  0.015, 0.087, 0.039, 0.055, -0.009, -0.033, 0.023, 0.007, -0.072, -0.08,
  -0.152, -0.167, -0.119, -0.104, -0.04, -0.025, 0.007, 0.007, 0.063, 0.087,
  0.102, 0.118, 0.134, 0.15, 0.182, 0.26, 0.134, 0.198, 0.118, 0.07,
  -0.025, 0.023, 0.039, 0.023, -0.009, -0.025, -0.04, -0.056, -0.033, -0.048,
  -0.072, -0.04, -0.088, -0.128, -0.104, -0.207, -0.175, -0.072, -0.025, -0.009,
  0.023, 0.063, -0.025, -0.009, 0.023, 0.063, 0.075,
];

const SQQQ = [
  -0.12, -0.02, -0.14, -0.04, 0.02, 0.047, -0.01, 0.087, 0.146, 0.225,
  0.15, 0.14, 0.05, 0.04, -0.017, -0.095, -0.01, 0, -0.135, -0.167,
  -0.064, -0.2, -0.21, -0.19, -0.21, -0.096, -0.11, -0.048, -0.1, -0.095,
  -0.18, -0.22, 0.087, 0.007, 0.07, 0.118, 0.04, 0.07, 0.03, 0.15,
  0.166, 0.162, 0.205, 0.134, 0.055, -0.072, 0.07, 0.094, -0.04, -0.048,
  -0.024, -0.2, -0.425, -0.21, -0.175, -0.15, -0.1, -0.096, -0.04, -0.05,
  -0.096, 0.217, 0.1, 0.166, 0.1, 0.023, -0.033, -0.11, -0.135, -0.072,
  -0.14, -0.08, -0.215, -0.32, -0.183, -0.39, -0.183, -0.207, -0.12, -0.16,
  -0.056, -0.04, 0.023, 0.146, 0.055, 0.023, -0.072, -0.088, -0.14, -0.08,
  -0.08, -0.033, -0.056, -0.135, -0.064, -0.11, -0.033, -0.056, 0.063, 0.213,
  0.1, 0.245, 0.18, 0.126, 0.039, 0.134, 0.166, 0.19, 0.134, 0.1,
  0.237, 0.126, 0.087, 0.142, 0.185, 0.087, 0.007, -0.064, -0.11, -0.08,
  -0.1, -0.135, -0.215, -0.334, -0.45, -0.334, -0.28, -0.175, -0.143, -0.175,
  -0.12, -0.159, -0.088, -0.11, 0.039, 0, 0.198, 0.11, 0.182, 0.15,
  0.182, 0.166, 0.213, 0.134, 0.23, 0.102, 0.126, -0.033, 0.102, 0.11,
  0.102, 0.087, -0.025, 0.055, 0.031, 0.063, 0.055, 0.007, 0.094, -0.025,
  -0.167, -0.104, -0.009, -0.096, 0.07, 0.023, 0.007, -0.048, 0.031, 0.007,
  0.2, 0.118, 0.055, 0.102, 0.031, 0.055, 0.079, 0.1, 0.087, 0.047,
  -0.096, -0.135, -0.2, -0.112, -0.175, -0.12, -0.15, -0.125, -0.167, -0.135,
  -0.183, -0.128, -0.295, -0.334, -0.048, 0.063, 0.031, 0.023, 0.007, 0.023,
  0.007, -0.017, 0.126, 0.142, 0.29, 0.182, 0.118, 0.19, 0.158, 0.126,
  0.174, 0.182, 0.198, 0.15, 0.134, 0.07, 0.039, -0.056, 0.031, -0.025,
  0, -0.048, -0.025, -0.072, -0.088, -0.033, -0.056, 0.079, 0.118, 0.182,
  0.166, 0.063, 0.063, 0.555, 0.467, 0.475, 0.34, 0.24, 0.26, 0.235,
  0.25, 0.235, 0.23, 0.25, 0.27, 0.277, 0.1, -0.06, 0.087, 0.19,
  0.087, 0.063, 0.023, -0.048, 0.079, 0.07, -0.072, -0.215, -0.29, -0.215,
  -0.167, -0.096, -0.12, -0.143, -0.08, -0.104, -0.096, -0.215, -0.072, -0.056,
  0.07, 0.055, -0.072, -0.23, -0.135, -0.19, -0.12, -0.143, -0.088, -0.295,
  0.055, 0.07, 0.063, -0.001, -0.009, 0.055, 0.087, 0.055, 0.07, 0.087,
  -0.04, 0.094, -0.2, -0.29, -0.2, -0.3, -0.2, -0.183, -0.143, -0.048,
  -0.104, -0.064, -0.12, 0.079, 0.023, 0.039, 0.023, 0.07, 0.094, 0.1,
  0.023, -0.009, 0.063, 0.087, 0.118, -0.135, -0.017, -0.048, -0.104, -0.048,
  -0.167, -0.064, -0.167, -0.104, -0.12, -0.143, -0.22, -0.152, -0.135, -0.104,
  0.015, -0.056, -0.19, -0.21, -0.19, -0.215, -0.215, -0.159, -0.183, -0.135,
  -0.128, -0.215, -0.175, -0.017, 0.035, -0.009, -0.009, -0.048, -0.033, -0.001,
  0.007, -0.08, -0.175, -0.104, -0.12, -0.112, -0.152, -0.072, -0.08, -0.064,
  -0.056, 0.007, 0.305, 0.031, 0.039, 0.07, 0.07, 0.079, 0.158, 0.063,
  -0.072, -0.104, -0.096, -0.072, -0.135, -0.056, -0.12, -0.143, -0.167, -0.175,
  -0.183, -0.285, -0.072, 0.015, -0.033, 0.047, -0.104, -0.112, 0.039, 0.023,
  -0.001, 0.031, 0.031, 0.023, 0.087, 0.094, 0.134, 0.145, 0.079, 0.19,
  0.102, -0.04, -0.19, -0.27, -0.167, -0.088, -0.072, -0.072, -0.135, -0.12,
  -0.12, -0.09, -0.125, -0.145, -0.072, 0, -0.025, -0.056, -0.096, -0.048,
  -0.11, -0.104, -0.009, 0, -0.08, -0.25, -0.19, 0.023, -0.088, -0.025,
  0.015, -0.056, 0.007, -0.11, 0.023, 0.007, 0.023, 0.031, -0.072, 0.055,
  -0.009, 0.07, 0.039, 0.063, 0.047, 0.063, 0.023, 0.142, 0.102, 0.023,
  -0.048, -0.11, -0.08, -0.11, -0.096, -0.159, -0.152, -0.112, -0.12, -0.207,
  -0.215, -0.088, -0.152, -0.104, -0.025, -0.128, -0.072, -0.056, -0.064, 0.007,
  -0.072, -0.152, -0.088, -0.135, 0.05, -0.08, -0.2, -0.056, -0.12, -0.152,
  0.33, 0.007, 0.158, -0.135, -0.38, -0.56, -0.52, -0.5, -0.478, -0.462,
  -0.465, -0.47, -0.495, -0.58, -0.31, -0.3, -0.223, -0.19, -0.23, -0.215,
  -0.23, -0.183, -0.128, -0.175, -0.215, -0.183, -0.175, -0.2, -0.16, 0.031,
  -0.12, -0.025, -0.072, -0.135, -0.104, -0.152, -0.072, -0.096, -0.167, -0.017,
  -0.033, -0.072, -0.025, -0.135, -0.017, -0.088, -0.04, -0.072, 0.09, -0.017,
  0.023, -0.025, 0.15, 0.118, -0.152, -0.183, -0.112, -0.056, -0.025, -0.009,
  -0.159, -0.19, -0.175, -0.183, -0.135, -0.096, -0.167, -0.12, -0.175, -0.128,
  -0.167, -0.135, -0.152, -0.24, -0.112, -0.056, -0.048, -0.112, -0.104, -0.183,
  -0.2, -0.104, -0.056, -0.072, -0.135, -0.159, -0.19, -0.167, -0.009, 0.102,
  0.102, 0.23, 0.31, 0.35, 0.4, 0.293, 0.213, 0.182, 0.23, 0.198,
  0.237, 0.245, 0.26, 0.237, 0.213, 0.17, 0.087, 0.06, -0.135, -0.12,
  -0.072, -0.017, -0.033, -0.096, 0.007, -0.072, 0.031, -0.056, -0.025, 0.031,
  0.055, 0.063, 0.087, 0.15, 0.15, 0.102, 0.118, 0.102, 0.134, 0.102,
  0.087, -0.017, -0.104, -0.112, -0.183, -0.135, -0.152, -0.19, -0.175, -0.152,
  -0.183, -0.143, -0.128, -0.143, -0.112, -0.104, -0.025, 0.007, 0.07, 0.102,
  0.118, 0.13, 0.118, 0.055, 0.07, 0.023, 0.039, -0.001, 0.07, -0.04,
  0.007, -0.056, -0.009, -0.072, -0.009, -0.033, -0.009, -0.056, 0.007, 0.015,
  0.023, -0.009, 0.007, -0.096, -0.025, 0.007, 0.039, 0.055, -0.025, 0.087,
  0.063, 0.039, 0.07, 0.055, 0.055, 0.023, -0.017, 0.023, 0.047, 0.023,
  0.031, 0.007, -0.033, 0.079, 0.055, 0.007, 0.039, 0.087, 0.023, 0.094,
  0.126, 0.039, 0.102, 0.07, 0.118, 0.087, 0.055, 0.126, 0.142, 0.15,
  0.087, -0.025, 0.039, 0.007, -0.025, 0.07, 0.023, -0.025, -0.072, -0.104,
  -0.112, -0.072, 0.07, 0.102, 0.031, 0.102, 0.039, 0.063, 0.055, 0.087,
  0.007, -0.009, 0.087, 0.166, 0.185, 0.134, 0.166, 0.063, -0.056, 0.039,
  0.015, 0.087, 0.039, 0.055, -0.009, -0.033, 0.023, 0.007, -0.072, -0.08,
  -0.152, -0.167, -0.119, -0.104, -0.04, -0.025, 0.007, 0.007, 0.063, 0.087,
  0.102, 0.118, 0.134, 0.15, 0.182, 0.26, 0.134, 0.198, 0.118, 0.07,
  -0.025, 0.023, 0.039, 0.023, -0.009, -0.025, -0.04, -0.056, -0.033, -0.048,
  -0.072, -0.04, -0.088, -0.128, -0.104, -0.215, -0.175, -0.072, -0.025, -0.009,
  0.023, 0.063, -0.025, -0.009, 0.023, 0.063, 0.075,
];

const seriesNames = ["QID", "QLD", "QQQ", "SQQQ", "TQQQ"];
const seriesColors = ["#1f77b4", "#ff7f0e", "#2ca02c", "#d62728", "#9467bd"];
const xTickValues = [2010, 2012, 2014, 2016, 2018, 2020, 2022, 2024];
const yTickValues = [-0.6, -0.4, -0.2, 0, 0.2, 0.4, 0.6];

const FONT = "'DejaVu Sans', sans-serif";
const FS = 13.9;
const LW = 2.08;

export default function App() {
  const ref = useRef<HTMLCanvasElement | null>(null);

  useEffect(() => {
    if (!ref.current) return;
    const series = [QID, QLD, QQQ, SQQQ, TQQQ];
    const datasets = series.map((vals, i) => ({
      label: seriesNames[i],
      data: dates.map((d, j) => ({ x: d, y: vals[j] })),
      borderColor: seriesColors[i],
      backgroundColor: seriesColors[i],
      borderWidth: LW,
      pointRadius: 0,
      pointHoverRadius: 0,
      tension: 0,
      fill: false,
      borderJoinStyle: "round" as const,
      order: series.length - 1 - i,
    }));

    const framePlugin = {
      id: "frameAndLegend",
      afterDraw(chart: any) {
        const { ctx, chartArea } = chart;
        const { left, top, right, bottom } = chartArea;
        ctx.save();
        ctx.strokeStyle = "#000";
        ctx.lineWidth = 1;
        ctx.strokeRect(Math.round(left) + 0.5, Math.round(top) + 0.5, Math.round(right - left) - 1, Math.round(bottom - top));

        // legend
        const bx = 1305, by = 23, bw = 95, bh = 108, r = 3;
        ctx.beginPath();
        ctx.moveTo(bx + r, by);
        ctx.lineTo(bx + bw - r, by);
        ctx.quadraticCurveTo(bx + bw, by, bx + bw, by + r);
        ctx.lineTo(bx + bw, by + bh - r);
        ctx.quadraticCurveTo(bx + bw, by + bh, bx + bw - r, by + bh);
        ctx.lineTo(bx + r, by + bh);
        ctx.quadraticCurveTo(bx, by + bh, bx, by + bh - r);
        ctx.lineTo(bx, by + r);
        ctx.quadraticCurveTo(bx, by, bx + r, by);
        ctx.closePath();
        ctx.fillStyle = "rgba(255,255,255,0.8)";
        ctx.fill();
        ctx.strokeStyle = "#cccccc";
        ctx.lineWidth = 1;
        ctx.stroke();

        ctx.font = `${FS}px ${FONT}`;
        ctx.textBaseline = "middle";
        ctx.textAlign = "left";
        seriesNames.forEach((name, i) => {
          const y = 34.7 + i * 20.8;
          ctx.strokeStyle = seriesColors[i];
          ctx.lineWidth = LW;
          ctx.beginPath();
          ctx.moveTo(1310, y);
          ctx.lineTo(1338, y);
          ctx.stroke();
          ctx.fillStyle = "#000";
          ctx.fillText(name, 1349, y + 0.5);
        });
        ctx.restore();
      },
    };

    const chart = new Chart(ref.current, {
      type: "line",
      data: { datasets: datasets as any },
      options: {
        responsive: true,
        maintainAspectRatio: false,
        animation: false,
        events: [],
        layout: { padding: { top: 16, right: 11, left: 0, bottom: 0 } },
        plugins: {
          legend: { display: false },
          tooltip: { enabled: false },
        },
        scales: {
          x: {
            type: "linear",
            min: 2009.623,
            max: 2025.784,
            afterBuildTicks: (s: any) => {
              s.ticks = xTickValues.map((v) => ({ value: v }));
            },
            afterFit: (s: any) => {
              s.height = 60;
            },
            grid: {
              color: "#b0b0b0",
              lineWidth: 1,
              tickColor: "#000",
              tickLength: 5,
              drawTicks: true,
            },
            border: { display: false },
            ticks: {
              color: "#000",
              font: { family: FONT, size: FS },
              padding: 3,
              maxRotation: 0,
              autoSkip: false,
              callback: (v: any) => String(v),
            },
            title: {
              display: true,
              text: "Date",
              color: "#000",
              font: { family: FONT, size: FS },
              padding: { top: 0, bottom: 16.5 },
            },
          },
          y: {
            type: "linear",
            min: -0.657,
            max: 0.612,
            afterBuildTicks: (s: any) => {
              s.ticks = yTickValues.map((v) => ({ value: v }));
            },
            afterFit: (s: any) => {
              s.width = 79;
            },
            grid: {
              color: "#b0b0b0",
              lineWidth: 1,
              tickColor: "#000",
              tickLength: 5,
              drawTicks: true,
            },
            border: { display: false },
            ticks: {
              color: "#000",
              font: { family: FONT, size: FS },
              padding: 4,
              autoSkip: false,
              callback: (v: any) => Number(v).toFixed(1).replace("-", "\u2212"),
            },
            title: {
              display: true,
              text: "AR(1) Coefficient",
              color: "#000",
              font: { family: FONT, size: FS },
              padding: { top: 13, bottom: 0 },
            },
          },
        },
      },
      plugins: [framePlugin],
    });
    return () => chart.destroy();
  }, []);

  return (
    <div style={{ position: "fixed", left: 0, top: 0, width: 1420, height: 609, background: "#fff" }}>
      <canvas ref={ref} />
    </div>
  );
}
